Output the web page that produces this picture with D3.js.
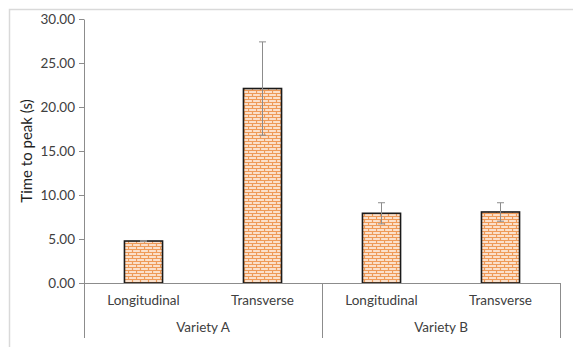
<!DOCTYPE html>
<html><head><meta charset="utf-8">
<script src="https://cdn.jsdelivr.net/npm/d3@7"></script>
<style>body{margin:0;background:#fff;}svg{display:block;}</style>
</head><body>
<svg id="c" width="573" height="347"></svg>
<script>
const groups = ["Variety A", "Variety B"];
const categories = ["Longitudinal", "Transverse"];
const values = [4.77, 22.1, 7.92, 8.07];
const errors = [0.06, 5.3, 1.2, 1.05];
const yTicks = [0, 5, 10, 15, 20, 25, 30];

const svg = d3.select("#c");
const font = "Lato, 'Open Sans', sans-serif";
const axisColor = "#8c8c8c";

// outer border
svg.append("rect").attr("x", 9.5).attr("y", 9.5).attr("width", 580).attr("height", 360)
  .attr("fill", "none").attr("stroke", "#d9d9d9").attr("stroke-width", 1.5);

// brick pattern
const defs = svg.append("defs");
const pat = defs.append("pattern").attr("id", "brick").attr("patternUnits", "userSpaceOnUse")
  .attr("width", 8).attr("height", 6);
pat.append("rect").attr("width", 8).attr("height", 6).attr("fill", "#fbe0cb");
const oc = "#ee9a58";
pat.append("path").attr("d", "M0,0.5H8M0,3.5H8M0.5,0V3M4.5,3V6").attr("stroke", oc).attr("stroke-width", 1.2).attr("fill", "none");

const x0 = 84, x1 = 560, yTop = 19, yBot = 283;
const y = d3.scaleLinear().domain([0, 30]).range([yBot, yTop]);
const labels = [];
groups.forEach(g => categories.forEach(c => labels.push(g + "|" + c)));
const x = d3.scaleBand().domain(labels).range([x0, x1]).paddingInner(0.68).paddingOuter(0.34);

// y axis
const yAxis = d3.axisLeft(y).tickValues(yTicks).tickFormat(d3.format(".2f")).tickSize(5).tickSizeOuter(0);
const ga = svg.append("g").attr("transform", `translate(${x0},0)`).call(yAxis);
ga.select(".domain").attr("stroke", axisColor);
ga.selectAll(".tick line").attr("stroke", axisColor);
ga.selectAll(".tick text").attr("font-family", font).attr("font-size", 13.5).attr("fill", "#404040").attr("x", -9);

svg.append("text").attr("transform", `translate(32,${(yTop + yBot) / 2}) rotate(-90)`)
  .attr("text-anchor", "middle").attr("font-family", font).attr("font-size", 15)
  .attr("fill", "#1f1f1f").text("Time to peak (s)");

// bars
const data = labels.map((l, i) => ({ key: l, cat: l.split("|")[1], v: values[i], e: errors[i] }));
svg.selectAll("rect.bar").data(data).enter().append("rect").attr("class", "bar")
  .attr("x", d => x(d.key)).attr("width", x.bandwidth())
  .attr("y", d => y(d.v)).attr("height", d => yBot - y(d.v))
  .attr("fill", "url(#brick)").attr("stroke", "#1a1a1a").attr("stroke-width", 1.6);

// error bars
const eb = svg.selectAll("g.err").data(data).enter().append("g").attr("stroke", "#8c8c8c").attr("stroke-width", 1);
eb.append("line").attr("x1", d => x(d.key) + x.bandwidth() / 2).attr("x2", d => x(d.key) + x.bandwidth() / 2)
  .attr("y1", d => y(d.v + d.e)).attr("y2", d => y(d.v - d.e));
eb.append("line").attr("x1", d => x(d.key) + x.bandwidth() / 2 - 3.5).attr("x2", d => x(d.key) + x.bandwidth() / 2 + 3.5)
  .attr("y1", d => y(d.v + d.e)).attr("y2", d => y(d.v + d.e));
eb.append("line").attr("x1", d => x(d.key) + x.bandwidth() / 2 - 3.5).attr("x2", d => x(d.key) + x.bandwidth() / 2 + 3.5)
  .attr("y1", d => y(d.v - d.e)).attr("y2", d => y(d.v - d.e));

// x axis baseline
svg.append("line").attr("x1", x0).attr("x2", x1).attr("y1", yBot + 0.5).attr("y2", yBot + 0.5).attr("stroke", axisColor);

// category labels
svg.selectAll("text.cat").data(data).enter().append("text")
  .attr("x", d => x(d.key) + x.bandwidth() / 2).attr("y", 305)
  .attr("text-anchor", "middle").attr("font-family", font).attr("font-size", 13.5).attr("fill", "#404040")
  .text(d => d.cat);

// group separators and labels
const gw = (x1 - x0) / groups.length;
const seps = d3.range(groups.length + 1).map(i => x0 + i * gw);
svg.selectAll("line.sep").data(seps).enter().append("line")
  .attr("x1", d => Math.round(d) + 0.5).attr("x2", d => Math.round(d) + 0.5)
  .attr("y1", yBot).attr("y2", 338).attr("stroke", axisColor);
svg.selectAll("text.grp").data(groups).enter().append("text")
  .attr("x", (d, i) => x0 + gw * (i + 0.5)).attr("y", 332)
  .attr("text-anchor", "middle").attr("font-family", font).attr("font-size", 13.5).attr("fill", "#404040")
  .text(d => d);
</script>
</body></html>
